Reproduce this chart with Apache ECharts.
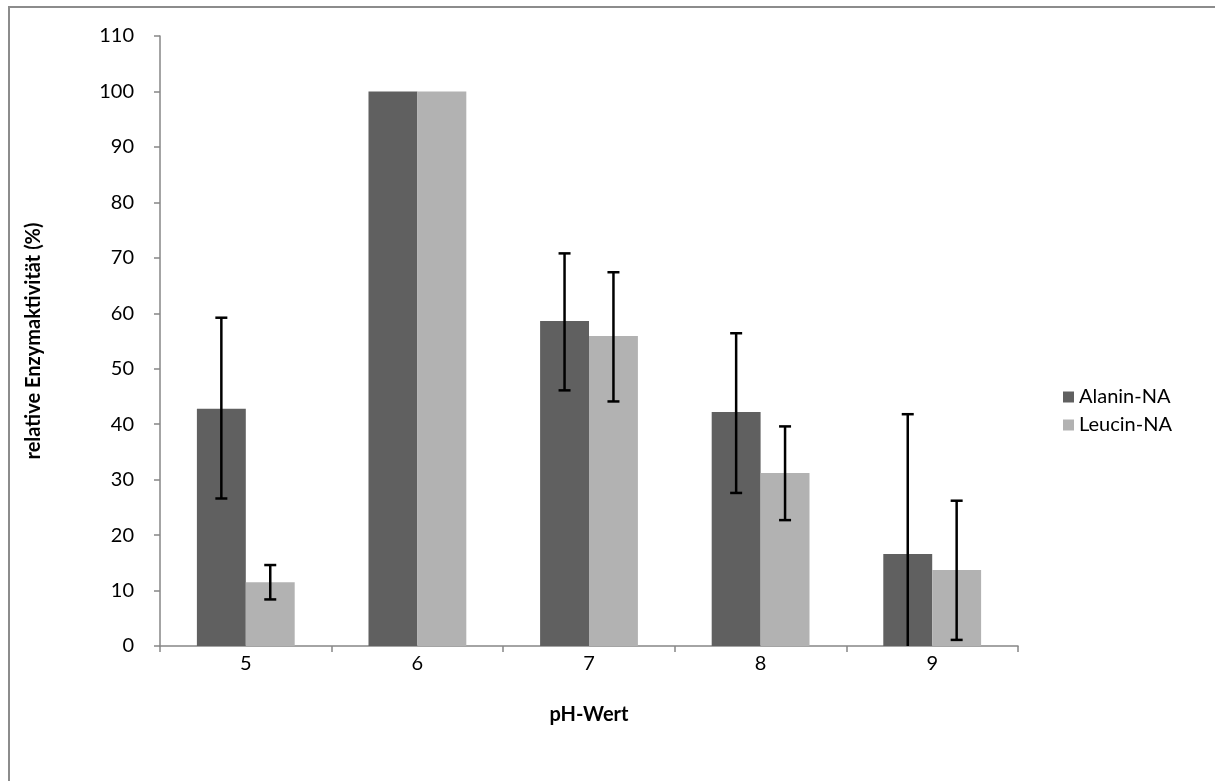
<!DOCTYPE html>
<html>
<head>
<meta charset="utf-8">
<script src="https://cdn.jsdelivr.net/npm/echarts@6/dist/echarts.min.js"></script>
<style>
  html, body { margin: 0; padding: 0; background: #fff; }
  #chart { width: 1215px; height: 781px; }
</style>
</head>
<body>
<div id="chart"></div>
<script>
const categories = ['5', '6', '7', '8', '9'];
const seriesNames = ['Alanin-NA', 'Leucin-NA'];
const alaninValues = [42.8, 100, 58.6, 42.2, 16.6];
const leucinValues = [11.5, 100, 55.9, 31.2, 13.7];
const alaninErrHigh = [59.2, null, 70.8, 56.4, 41.8];
const alaninErrLow  = [26.6, null, 46.1, 27.6, -8.6];
const leucinErrHigh = [14.6, null, 67.4, 39.6, 26.2];
const leucinErrLow  = [8.4, null, 44.1, 22.7, 1.1];
const yTicks = { min: 0, max: 110, interval: 10 };

const BAR_RATIO = 0.285;
const FONT = 'Lato, "Open Sans", sans-serif';

function errorData(high, low) {
  const out = [];
  for (let i = 0; i < categories.length; i++) {
    if (high[i] != null) out.push([i, low[i], high[i]]);
  }
  return out;
}

function makeErrorRender(sign) {
  return function (params, api) {
    const idx = api.value(0);
    const lo = api.coord([idx, api.value(1)]);
    const hi = api.coord([idx, api.value(2)]);
    const band = api.size([1, 0])[0];
    const x = lo[0] + sign * band * BAR_RATIO / 2;
    const cap = 6;
    const style = { stroke: '#000', lineWidth: 2.5 };
    return {
      type: 'group',
      children: [
        { type: 'line', shape: { x1: x, y1: lo[1], x2: x, y2: hi[1] }, style: style },
        { type: 'line', shape: { x1: x - cap, y1: hi[1], x2: x + cap, y2: hi[1] }, style: style },
        { type: 'line', shape: { x1: x - cap, y1: lo[1], x2: x + cap, y2: lo[1] }, style: style }
      ]
    };
  };
}

const chart = echarts.init(document.getElementById('chart'));
chart.setOption({
  animation: false,
  backgroundColor: '#fff',
  textStyle: { fontFamily: FONT },
  graphic: [{
    type: 'rect',
    shape: { x: 9, y: 7, width: 1400, height: 1000 },
    style: { fill: 'none', stroke: '#8c8c8c', lineWidth: 2 },
    silent: true
  }],
  grid: { left: 160, right: 197, top: 36, bottom: 135 },
  legend: {
    orient: 'vertical',
    left: 1058,
    top: 382,
    itemWidth: 11,
    itemHeight: 11,
    itemGap: 8,
    icon: 'rect',
    textStyle: { fontSize: 20, color: '#000', fontFamily: FONT },
    data: seriesNames
  },
  xAxis: {
    type: 'category',
    data: categories,
    name: 'pH-Wert',
    nameLocation: 'middle',
    nameGap: 59,
    nameTextStyle: { fontSize: 20, fontWeight: 'bold', color: '#000', fontFamily: FONT },
    axisLine: { lineStyle: { color: '#868686', width: 1.5 } },
    axisTick: { show: true, length: 6, alignWithLabel: false, lineStyle: { color: '#868686', width: 1.5 } },
    axisLabel: { fontSize: 20, color: '#000', margin: 8, fontFamily: FONT }
  },
  yAxis: {
    type: 'value',
    min: yTicks.min,
    max: yTicks.max,
    interval: yTicks.interval,
    name: 'relative Enzymaktivität (%)',
    nameLocation: 'middle',
    nameGap: 116,
    nameTextStyle: { fontSize: 20, fontWeight: 'bold', color: '#000', fontFamily: FONT },
    axisLine: { show: true, lineStyle: { color: '#868686', width: 1.5 } },
    axisTick: { show: true, length: 6, lineStyle: { color: '#868686', width: 1.5 } },
    splitLine: { show: false },
    axisLabel: { fontSize: 20, color: '#000', margin: 26, fontFamily: FONT }
  },
  series: [
    {
      name: seriesNames[0],
      type: 'bar',
      data: alaninValues,
      barWidth: (BAR_RATIO * 100) + '%',
      barGap: '0%',
      itemStyle: { color: '#606060' }
    },
    {
      name: seriesNames[1],
      type: 'bar',
      data: leucinValues,
      barWidth: (BAR_RATIO * 100) + '%',
      barGap: '0%',
      itemStyle: { color: '#b2b2b2' }
    },
    {
      type: 'custom',
      name: 'errA',
      clip: true,
      renderItem: makeErrorRender(-1),
      data: errorData(alaninErrHigh, alaninErrLow),
      encode: { x: 0, y: [1, 2] },
      z: 10
    },
    {
      type: 'custom',
      name: 'errL',
      clip: true,
      renderItem: makeErrorRender(1),
      data: errorData(leucinErrHigh, leucinErrLow),
      encode: { x: 0, y: [1, 2] },
      z: 10
    }
  ]
});
</script>
</body>
</html>
